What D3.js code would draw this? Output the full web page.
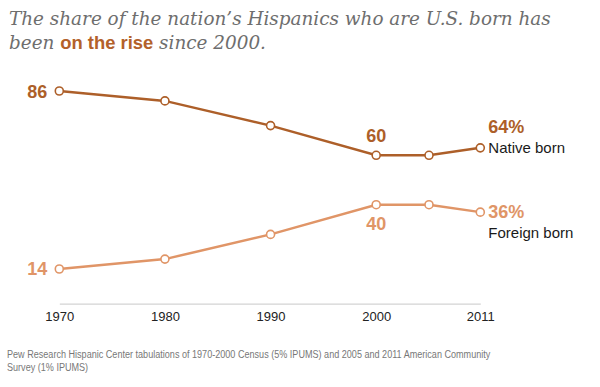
<!DOCTYPE html>
<html><head><meta charset="utf-8">
<script src="https://cdn.jsdelivr.net/npm/d3@7"></script>
<style>body{margin:0;background:#fff}svg{display:block}</style>
</head><body><svg id="c" width="600" height="387"></svg>
<script>
const years = [1970, 1980, 1990, 2000, 2005, 2011];
const tickYears = [1970, 1980, 1990, 2000, 2011];
const nativeBorn = [86, 82, 72, 60, 60, 63];
const foreignBorn = [14, 18, 28, 40, 40, 37];
const nativeLabels = ["86", null, null, "60", null, "64%"];
const foreignLabels = ["14", null, null, "40", null, "36%"];
const seriesNames = ["Native born", "Foreign born"];
const colors = ["#ad5f29", "#e09567"];

const svg = d3.select("#c");
const x = d3.scaleLinear().domain([1970, 2005, 2011]).range([59.3, 429, 480.3]);
const y = d3.scaleLinear().domain([0, 86]).range([303.6, 91]);

// title
const t = svg.append("text").attr("x", 9).attr("y", 25)
  .style("font-family", "'DejaVu Serif', Georgia, serif").style("font-style", "italic")
  .style("font-size", "18.4px").style("fill", "#6e6e6e");
t.text("The share of the nation\u2019s Hispanics who are U.S. born has");
const t2 = svg.append("text").attr("x", 9).attr("y", 49)
  .style("font-family", "'DejaVu Serif', Georgia, serif").style("font-style", "italic")
  .style("font-size", "18.4px").style("fill", "#6e6e6e");
t2.append("tspan").text("been ");
t2.append("tspan").text("on the rise").style("font-family", "'Liberation Sans', Arial, sans-serif")
  .style("font-style", "normal").style("font-weight", "bold").style("fill", "#b3612a");
t2.append("tspan").text(" since 2000.");

// axis
const axis = d3.axisBottom(x).tickValues(tickYears).tickFormat(d3.format("d")).tickSize(0).tickPadding(8);
const ag = svg.append("g").attr("transform", `translate(0,${y(0)})`).call(axis);
ag.select(".domain").attr("stroke", "#c8c8c8").attr("stroke-width", 1);
ag.selectAll("text").style("font-family", "'Liberation Sans', Arial, sans-serif")
  .style("font-size", "13px").style("fill", "#222");

const series = [
  {name: seriesNames[0], values: nativeBorn, labels: nativeLabels, color: colors[0]},
  {name: seriesNames[1], values: foreignBorn, labels: foreignLabels, color: colors[1]}
];
const line = d3.line().x((d, i) => x(years[i])).y(d => y(d));

series.forEach((s, si) => {
  svg.append("path").datum(s.values).attr("d", line)
    .attr("fill", "none").attr("stroke", s.color).attr("stroke-width", 2.5);
  svg.selectAll(null).data(s.values).enter().append("circle")
    .attr("cx", (d, i) => x(years[i])).attr("cy", d => y(d)).attr("r", 4)
    .attr("fill", "#fff").attr("stroke", s.color).attr("stroke-width", 1.6);
  s.labels.forEach((lab, i) => {
    if (!lab) return;
    const cx = x(years[i]), cy = y(s.values[i]);
    const txt = svg.append("text").text(lab)
      .style("font-family", "'Liberation Sans', Arial, sans-serif").style("font-weight", "bold")
      .style("font-size", "18px").style("fill", s.color);
    if (i === 0) {
      txt.attr("x", cx - 12).attr("y", cy + 6.5).attr("text-anchor", "end");
    } else if (i === years.length - 1) {
      txt.attr("x", cx + 8).attr("y", si === 0 ? cy - 15 : cy + 6);
      svg.append("text").text(s.name).attr("x", cx + 8).attr("y", si === 0 ? cy + 5 : cy + 25.5)
        .style("font-family", "'Liberation Sans', Arial, sans-serif")
        .style("font-size", "15px").style("fill", "#1a1a1a");
    } else {
      txt.attr("x", cx).attr("y", si === 0 ? cy - 13 : cy + 25).attr("text-anchor", "middle");
    }
  });
});

// source
const src = ["Pew Research Hispanic Center tabulations of 1970-2000 Census (5% IPUMS) and 2005 and 2011 American Community",
             "Survey (1% IPUMS)"];
src.forEach((s, i) => {
  svg.append("text").text(s)
    .attr("transform", `translate(7,${358 + i * 13}) scale(0.825,1)`)
    .style("font-family", "'Liberation Sans', Arial, sans-serif")
    .style("font-size", "11px").style("fill", "#777");
});
</script></body></html>
